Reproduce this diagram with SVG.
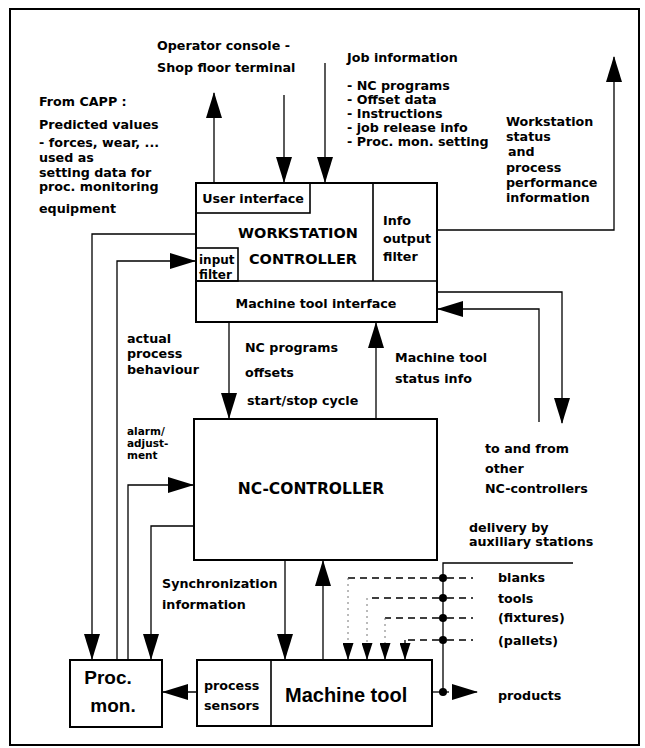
<svg xmlns="http://www.w3.org/2000/svg" width="645" height="748" viewBox="0 0 645 748">
  <style>
    .t { font-family: "DejaVu Sans", "Liberation Sans", sans-serif; font-weight: bold; font-size: 12.7px; fill: #000; }
    .s { font-size: 12px; }
    .xs { font-size: 10.5px; }
    .big { font-family: "DejaVu Sans", sans-serif; font-weight: bold; font-size: 14.5px; fill: #000; }
    .huge { font-family: "Liberation Sans", Arial, sans-serif; font-weight: bold; font-size: 19px; fill: #000; }
    .box { fill: #fff; stroke: #000; stroke-width: 2; }
    .div { fill: none; stroke: #000; stroke-width: 1.6; }
    .wire { fill: none; stroke: #000; stroke-width: 1.3; }
    .dash { fill: none; stroke: #000; stroke-width: 1.3; stroke-dasharray: 7 5; }
    .dot { fill: none; stroke: #777; stroke-width: 1; stroke-dasharray: 2 4; }
  </style>
  <defs>
    <marker id="arrow" markerUnits="userSpaceOnUse" viewBox="0 0 26 16" refX="25" refY="8" markerWidth="26" markerHeight="16" orient="auto">
      <path d="M0,0 L26,8 L0,16 Z" fill="#000"/>
    </marker>
    <marker id="arrowSmall" markerUnits="userSpaceOnUse" viewBox="0 0 17 11" refX="16" refY="5.5" markerWidth="17" markerHeight="11" orient="auto">
      <path d="M0,0 L17,5.5 L0,11 Z" fill="#000"/>
    </marker>
  </defs>

  <rect width="645" height="748" fill="#fff"/>
  <!-- outer frame -->
  <rect x="10" y="9" width="629" height="736" fill="none" stroke="#000" stroke-width="2"/>

  <!-- free-standing labels -->
  <g id="labels">
    <text class="t" x="157" y="50">Operator console -</text>
    <text class="t" x="157" y="72">Shop floor terminal</text>

    <text class="t" x="39" y="106">From CAPP :</text>
    <text class="t" x="39" y="129">Predicted values</text>
    <text class="t" x="39" y="147">- forces, wear, ...</text>
    <text class="t" x="39" y="162">used as</text>
    <text class="t" x="39" y="177">setting data for</text>
    <text class="t" x="39" y="191">proc. monitoring</text>
    <text class="t" x="39" y="213">equipment</text>

    <text class="t" x="347" y="62">Job information</text>
    <text class="t" x="347" y="90">- NC programs</text>
    <text class="t" x="347" y="104">- Offset data</text>
    <text class="t" x="347" y="118">- Instructions</text>
    <text class="t" x="347" y="132">- job release info</text>
    <text class="t" x="347" y="146">- Proc.  mon. setting</text>

    <text class="t" x="506" y="126">Workstation</text>
    <text class="t" x="506" y="141">status</text>
    <text class="t" x="508" y="156">and</text>
    <text class="t" x="506" y="172">process</text>
    <text class="t" x="506" y="187">performance</text>
    <text class="t" x="506" y="202">information</text>

    <text class="t" x="127" y="343">actual</text>
    <text class="t" x="127" y="358">process</text>
    <text class="t" x="127" y="374">behaviour</text>

    <text class="t xs" x="127" y="435">alarm/</text>
    <text class="t xs" x="127" y="447">adjust-</text>
    <text class="t xs" x="127" y="459">ment</text>

    <text class="t" x="245" y="352">NC programs</text>
    <text class="t" x="245" y="377">offsets</text>
    <text class="t" x="247" y="405">start/stop cycle</text>

    <text class="t" x="395" y="362">Machine tool</text>
    <text class="t" x="395" y="383">status info</text>

    <text class="t" x="485" y="453">to and from</text>
    <text class="t" x="485" y="473">other</text>
    <text class="t" x="485" y="493">NC-controllers</text>

    <text class="t" x="162" y="588">Synchronization</text>
    <text class="t" x="162" y="609">information</text>

    <text class="t" x="469" y="532">delivery by</text>
    <text class="t" x="469" y="546">auxiliary stations</text>
    <text class="t" x="498" y="582">blanks</text>
    <text class="t" x="498" y="603">tools</text>
    <text class="t" x="498" y="622">(fixtures)</text>
    <text class="t" x="498" y="645">(pallets)</text>
    <text class="t" x="498" y="700">products</text>
  </g>

  <!-- connectors -->
  <g id="connectors">
    <path class="wire" d="M214,183 V93" marker-end="url(#arrow)"/>
    <path class="wire" d="M284,95 V182" marker-end="url(#arrow)"/>
    <path class="wire" d="M325,63 V182" marker-end="url(#arrow)"/>
    <path class="wire" d="M437,230 H614 V57" marker-end="url(#arrow)"/>
    <path class="wire" d="M437,292 H562 V423" marker-end="url(#arrow)"/>
    <path class="wire" d="M539,422 V309 H438" marker-end="url(#arrow)"/>
    <path class="wire" d="M229,322 V418" marker-end="url(#arrow)"/>
    <path class="wire" d="M376,419 V323" marker-end="url(#arrow)"/>
    <path class="wire" d="M196,234 H92 V659" marker-end="url(#arrow)"/>
    <path class="wire" d="M117,660 V261 H195" marker-end="url(#arrow)"/>
    <path class="wire" d="M128,660 V485 H193" marker-end="url(#arrow)"/>
    <path class="wire" d="M194,526 H151 V659" marker-end="url(#arrow)"/>
    <path class="wire" d="M285,560 V659" marker-end="url(#arrow)"/>
    <path class="wire" d="M323,660 V561" marker-end="url(#arrow)"/>
    <path class="wire" d="M197,692 H163" marker-end="url(#arrow)"/>

    <!-- delivery rail from the auxiliary stations -->
    <path class="wire" d="M573,563 H443 V692"/>
    <path class="wire" d="M432,692 H449"/>
    <path class="wire" d="M454,692 H477" marker-end="url(#arrow)"/>
    <circle cx="443" cy="578" r="4"/>
    <circle cx="443" cy="598" r="4"/>
    <circle cx="443" cy="618" r="4"/>
    <circle cx="443" cy="640" r="4"/>
    <circle cx="443" cy="692" r="4"/>

    <path class="dash" d="M447,578 H473"/>
    <path class="dash" d="M447,598 H473"/>
    <path class="dash" d="M447,618 H473"/>
    <path class="dash" d="M447,640 H473"/>

    <path class="dash" d="M439,578 H348"/>
    <path class="dash" d="M439,598 H367"/>
    <path class="dash" d="M439,618 H385"/>
    <path class="dash" d="M439,640 H405"/>
    <path class="dot" d="M348,578 V643"/>
    <path class="dot" d="M367,598 V643"/>
    <path class="dot" d="M385,618 V643"/>
    <path class="wire" d="M348,643 V659" marker-end="url(#arrowSmall)"/>
    <path class="wire" d="M367,643 V659" marker-end="url(#arrowSmall)"/>
    <path class="wire" d="M385,643 V659" marker-end="url(#arrowSmall)"/>
    <path class="wire" d="M405,640 V659" marker-end="url(#arrowSmall)"/>
  </g>

  <!-- workstation controller -->
  <g id="workstation-controller">
    <rect class="box" x="196" y="183" width="241" height="139"/>
    <rect class="div" x="196" y="183" width="114" height="30"/>
    <path class="div" d="M373,183 V281 M196,281 H437"/>
    <rect class="div" x="196" y="248" width="42" height="33"/>
    <text class="t" x="253" y="203" text-anchor="middle">User interface</text>
    <text class="big" x="298" y="238" text-anchor="middle">WORKSTATION</text>
    <text class="big" x="303" y="264" text-anchor="middle">CONTROLLER</text>
    <text class="t" x="383" y="225">Info</text>
    <text class="t" x="383" y="243">output</text>
    <text class="t" x="383" y="261">filter</text>
    <text class="t s" x="199" y="264">input</text>
    <text class="t s" x="199" y="279">filter</text>
    <text class="t" x="316" y="308" text-anchor="middle">Machine tool interface</text>
  </g>

  <!-- NC controller -->
  <g id="nc-controller">
    <rect class="box" x="194" y="419" width="243" height="141"/>
    <text class="big" x="311" y="494" text-anchor="middle" style="font-size:15.5px">NC-CONTROLLER</text>
  </g>

  <!-- process monitoring -->
  <g id="proc-mon">
    <rect class="box" x="70" y="660" width="92" height="67"/>
    <text class="huge" x="108" y="684" text-anchor="middle">Proc.</text>
    <text class="huge" x="113" y="712" text-anchor="middle">mon.</text>
  </g>

  <!-- machine tool with its process sensors -->
  <g id="machine-tool">
    <rect class="box" x="197" y="660" width="235" height="66"/>
    <path class="div" d="M271,660 V726"/>
    <text class="t" x="204" y="690">process</text>
    <text class="t" x="204" y="710">sensors</text>
    <text class="huge" x="285" y="702" style="font-size:20px">Machine tool</text>
  </g>
</svg>
